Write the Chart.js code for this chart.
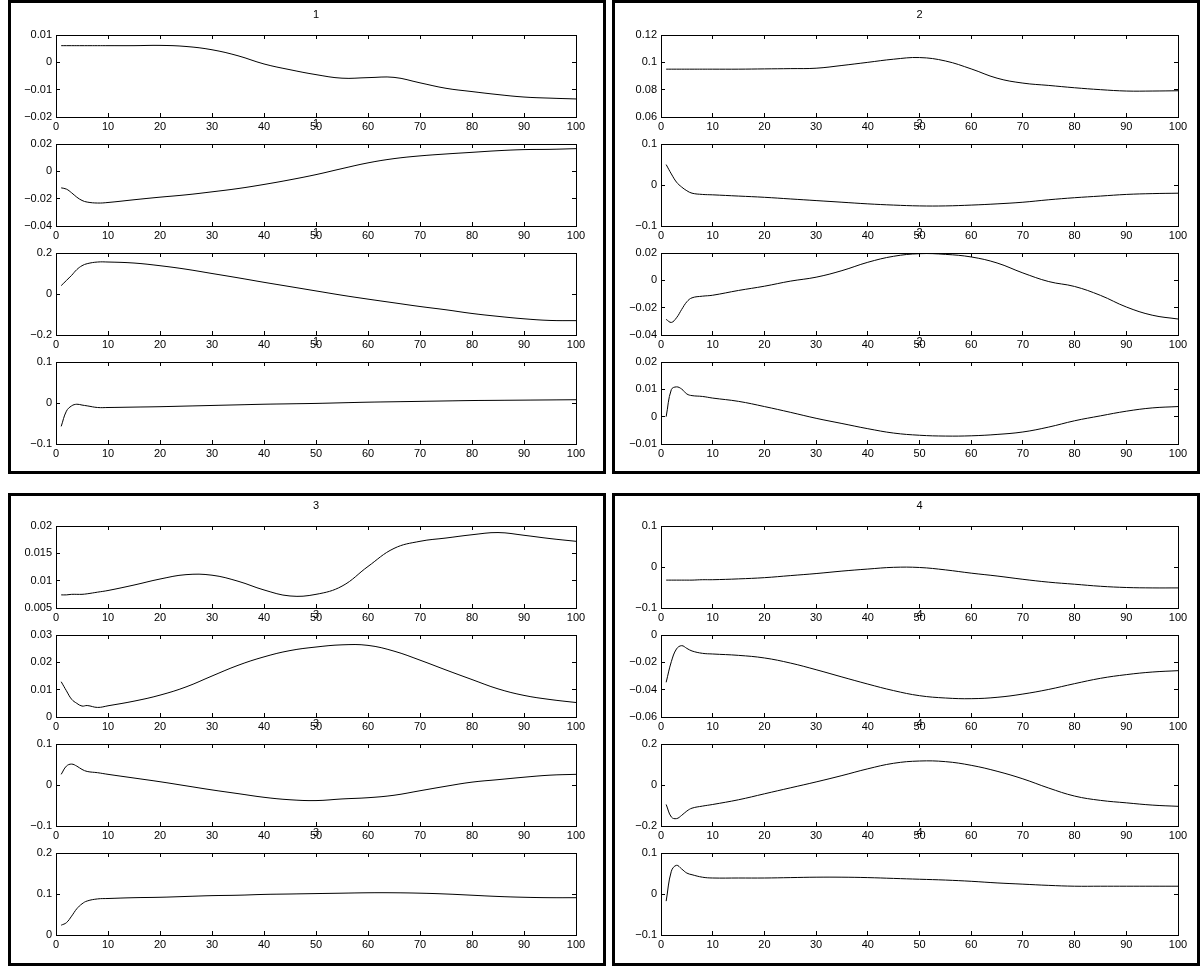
<!DOCTYPE html>
<html>
<head>
<meta charset="utf-8">
<script src="https://cdn.jsdelivr.net/npm/chart.js@4.4.1/dist/chart.umd.min.js"></script>
<style>
  html, body { margin: 0; padding: 0; background: #fff; }
  #stage { position: relative; width: 1203px; height: 967px; overflow: hidden; background: #fff; }
  .panel { position: absolute; border: 3px solid #000; box-sizing: border-box; }
  canvas { position: absolute; }
</style>
</head>
<body>
<div id="stage">
  <div class="panel" style="left:8px;top:0px;width:598px;height:474px"></div>
  <div class="panel" style="left:612px;top:0px;width:588px;height:474px"></div>
  <div class="panel" style="left:8px;top:493px;width:598px;height:473px"></div>
  <div class="panel" style="left:612px;top:493px;width:588px;height:473px"></div>
</div>
<script>
// ---------- data ----------
const X = [1,2,3,4,5,6,8,10,15,20,25,30,35,40,45,50,55,60,65,70,75,80,85,90,95,100];
const xTicks = [0,10,20,30,40,50,60,70,80,90,100];

// panel 1
const p1s1 = [0.0061,0.0061,0.0061,0.0061,0.0061,0.0061,0.0061,0.0061,0.0061,0.0062,0.0058,0.0046,0.0024,-0.0006,-0.0027,-0.0045,-0.0058,-0.0056,-0.0055,-0.0075,-0.0095,-0.0107,-0.0118,-0.0127,-0.0131,-0.0134];
const p1s2 = [-0.0121,-0.013,-0.0157,-0.0189,-0.0213,-0.0225,-0.0232,-0.0228,-0.0208,-0.0189,-0.0172,-0.015,-0.0126,-0.0096,-0.0062,-0.0024,0.002,0.0062,0.0093,0.0113,0.0127,0.0139,0.0151,0.0159,0.0161,0.0166];
const p1s3 = [0.041,0.066,0.091,0.119,0.138,0.148,0.156,0.156,0.151,0.138,0.121,0.1,0.079,0.057,0.036,0.015,-0.006,-0.025,-0.043,-0.061,-0.077,-0.095,-0.109,-0.121,-0.129,-0.13];
const p1s4 = [-0.057,-0.02,-0.007,-0.003,-0.005,-0.007,-0.011,-0.011,-0.010,-0.009,-0.0075,-0.006,-0.0045,-0.003,-0.002,-0.001,0.0005,0.002,0.003,0.004,0.005,0.006,0.0065,0.007,0.0075,0.008];
// panel 2
const p2s1 = [0.095,0.095,0.095,0.095,0.095,0.095,0.095,0.095,0.095,0.0952,0.0954,0.0957,0.0977,0.1,0.1023,0.1035,0.101,0.0952,0.0884,0.0848,0.0831,0.0814,0.08,0.079,0.079,0.0792];
const p2s2 = [0.0498,0.027,0.007,-0.005,-0.014,-0.02,-0.023,-0.024,-0.027,-0.03,-0.034,-0.038,-0.042,-0.046,-0.049,-0.051,-0.051,-0.049,-0.046,-0.042,-0.036,-0.031,-0.027,-0.023,-0.021,-0.02];
const p2s3 = [-0.0286,-0.0308,-0.0274,-0.0213,-0.0157,-0.0128,-0.0116,-0.0109,-0.0074,-0.0043,-0.0006,0.0023,0.0071,0.0132,0.0176,0.0195,0.019,0.0171,0.0127,0.0054,-0.0009,-0.0045,-0.011,-0.0195,-0.0255,-0.0283];
const p2s4 = [0.0,0.0099,0.0109,0.0101,0.0083,0.0077,0.0074,0.0068,0.0056,0.0037,0.0016,-0.0006,-0.0025,-0.0044,-0.006,-0.0068,-0.0071,-0.007,-0.0065,-0.0056,-0.0038,-0.0015,0.0003,0.002,0.0032,0.0037];
// panel 3
const p3s1 = [0.0074,0.0074,0.0075,0.0075,0.0075,0.0076,0.0079,0.0082,0.0092,0.0103,0.0111,0.011,0.0099,0.0083,0.0072,0.0075,0.009,0.0126,0.0159,0.0172,0.0178,0.0184,0.0188,0.0183,0.0177,0.0172];
const p3s2 = [0.0129,0.0096,0.0065,0.005,0.004,0.0042,0.0035,0.0041,0.0058,0.008,0.011,0.015,0.0189,0.022,0.0243,0.0256,0.0264,0.0262,0.0241,0.0208,0.0172,0.0137,0.0103,0.0079,0.0064,0.0053];
const p3s3 = [0.026,0.046,0.051,0.046,0.038,0.033,0.03,0.026,0.017,0.008,-0.002,-0.012,-0.021,-0.03,-0.036,-0.038,-0.034,-0.031,-0.025,-0.014,-0.003,0.007,0.013,0.019,0.024,0.026];
const p3s4 = [0.024,0.03,0.046,0.064,0.076,0.083,0.088,0.089,0.091,0.092,0.094,0.096,0.097,0.099,0.1,0.101,0.102,0.103,0.103,0.102,0.1,0.097,0.094,0.092,0.091,0.091];
// panel 4
const p4s1 = [-0.032,-0.032,-0.032,-0.032,-0.032,-0.032,-0.031,-0.031,-0.029,-0.026,-0.021,-0.016,-0.01,-0.005,-0.0008,-0.0012,-0.007,-0.015,-0.022,-0.03,-0.037,-0.042,-0.047,-0.05,-0.051,-0.051];
const p4s2 = [-0.0346,-0.0195,-0.0102,-0.0078,-0.0098,-0.0117,-0.0134,-0.0139,-0.0149,-0.0168,-0.0205,-0.0254,-0.0307,-0.0359,-0.0407,-0.0444,-0.0461,-0.0466,-0.0456,-0.0432,-0.0398,-0.0356,-0.0317,-0.029,-0.0271,-0.0261];
const p4s3 = [-0.095,-0.156,-0.164,-0.148,-0.127,-0.113,-0.103,-0.095,-0.072,-0.043,-0.014,0.015,0.046,0.079,0.106,0.117,0.114,0.096,0.067,0.03,-0.015,-0.054,-0.075,-0.087,-0.098,-0.104];
const p4s4 = [-0.0174,0.0555,0.07,0.061,0.051,0.047,0.041,0.039,0.039,0.039,0.04,0.041,0.041,0.04,0.038,0.036,0.034,0.031,0.027,0.024,0.021,0.019,0.019,0.019,0.019,0.019];

// y tick labels
const t_p1s1 = [-0.02,-0.01,0,0.01];
const t_p1s2 = [-0.04,-0.02,0,0.02];
const t_p1s3 = [-0.2,0,0.2];
const t_p1s4 = [-0.1,0,0.1];
const t_p2s1 = [0.06,0.08,0.1,0.12];
const t_p2s2 = [-0.1,0,0.1];
const t_p2s3 = [-0.04,-0.02,0,0.02];
const t_p2s4 = [-0.01,0,0.01,0.02];
const t_p3s1 = [0.005,0.01,0.015,0.02];
const t_p3s2 = [0,0.01,0.02,0.03];
const t_p3s3 = [-0.1,0,0.1];
const t_p3s4 = [0,0.1,0.2];
const t_p4s1 = [-0.1,0,0.1];
const t_p4s2 = [-0.06,-0.04,-0.02,0];
const t_p4s3 = [-0.2,0,0.2];
const t_p4s4 = [-0.1,0,0.1];

const panelTitles = ['1','2','3','4'];

// ---------- layout ----------
const FONT = "'Liberation Sans', Arial, Helvetica, sans-serif";
const colLR = [[56,576],[661,1178]];
const rowTops = [[35,144,253,362],[526,635,744,853]];
const AX_H = 82;
const PAD_L = 52, PAD_R = 22, PAD_T = 31, PAD_B = 22;

const panels = [
  {title: panelTitles[0], col:0, row:0, series:[p1s1,p1s2,p1s3,p1s4], ticks:[t_p1s1,t_p1s2,t_p1s3,t_p1s4]},
  {title: panelTitles[1], col:1, row:0, series:[p2s1,p2s2,p2s3,p2s4], ticks:[t_p2s1,t_p2s2,t_p2s3,t_p2s4]},
  {title: panelTitles[2], col:0, row:1, series:[p3s1,p3s2,p3s3,p3s4], ticks:[t_p3s1,t_p3s2,t_p3s3,t_p3s4]},
  {title: panelTitles[3], col:1, row:1, series:[p4s1,p4s2,p4s3,p4s4], ticks:[t_p4s1,t_p4s2,t_p4s3,t_p4s4]},
];

function fmt(v) {
  let s = String(Math.round(v * 1e6) / 1e6);
  if (s === '-0') s = '0';
  return s.replace('-', '\u2212');
}

const tickFont = {family: FONT, size: 11, weight: 'normal'};
const gridOpts = {drawOnChartArea: false, drawTicks: true, tickLength: -4, color: '#000', lineWidth: 1};
const borderOpts = {display: true, color: '#000', width: 1};

const stage = document.getElementById('stage');

panels.forEach(p => {
  const [L, R] = colLR[p.col];
  p.series.forEach((ser, i) => {
    const T = rowTops[p.row][i];
    const yt = p.ticks[i];
    const cv = document.createElement('canvas');
    const w = (R - L) + PAD_L + PAD_R;
    const h = AX_H + PAD_T + PAD_B;
    cv.width = w; cv.height = h;
    cv.style.left = (L - PAD_L) + 'px';
    cv.style.top = (T - PAD_T) + 'px';
    cv.style.width = w + 'px';
    cv.style.height = h + 'px';
    stage.appendChild(cv);

    const setY = s => { s.ticks = yt.map(v => ({value: v})); };
    const setX = s => { s.ticks = xTicks.map(v => ({value: v})); };

    new Chart(cv.getContext('2d'), {
      type: 'line',
      data: {
        datasets: [{
          data: X.map((x, k) => ({x: x, y: ser[k]})),
          borderColor: '#000',
          borderWidth: 1,
          pointRadius: 0,
          fill: false,
          tension: 0.4,
          xAxisID: 'x',
          yAxisID: 'y'
        }]
      },
      options: {
        responsive: false,
        animation: false,
        devicePixelRatio: 1,
        events: [],
        layout: {padding: {left: 0, right: PAD_R, top: 0, bottom: 0}},
        plugins: {
          legend: {display: false},
          tooltip: {enabled: false},
          title: {
            display: true, text: p.title, color: '#000', fullSize: false,
            font: {family: FONT, size: 11, weight: 'normal', lineHeight: 1.2},
            padding: {top: 4.4, bottom: 13.4}
          }
        },
        scales: {
          x: {
            type: 'linear', position: 'bottom', min: 0, max: 100,
            afterBuildTicks: setX,
            afterFit: s => { s.height = PAD_B; },
            ticks: {font: tickFont, color: '#000', padding: 7, maxRotation: 0, autoSkip: false, callback: v => String(v)},
            grid: gridOpts, border: borderOpts
          },
          x2: {
            type: 'linear', position: 'top', min: 0, max: 100,
            afterBuildTicks: setX,
            afterFit: s => { s.height = 0; },
            ticks: {display: false},
            grid: gridOpts, border: borderOpts
          },
          y: {
            type: 'linear', position: 'left', min: yt[0], max: yt[yt.length - 1],
            afterBuildTicks: setY,
            afterFit: s => { s.width = PAD_L; },
            ticks: {font: tickFont, color: '#000', padding: 8, autoSkip: false, callback: v => fmt(v)},
            grid: gridOpts, border: borderOpts
          },
          y2: {
            type: 'linear', position: 'right', min: yt[0], max: yt[yt.length - 1],
            afterBuildTicks: setY,
            afterFit: s => { s.width = 0; },
            ticks: {display: false},
            grid: gridOpts, border: borderOpts
          }
        }
      }
    });
  });
});
</script>
</body>
</html>
